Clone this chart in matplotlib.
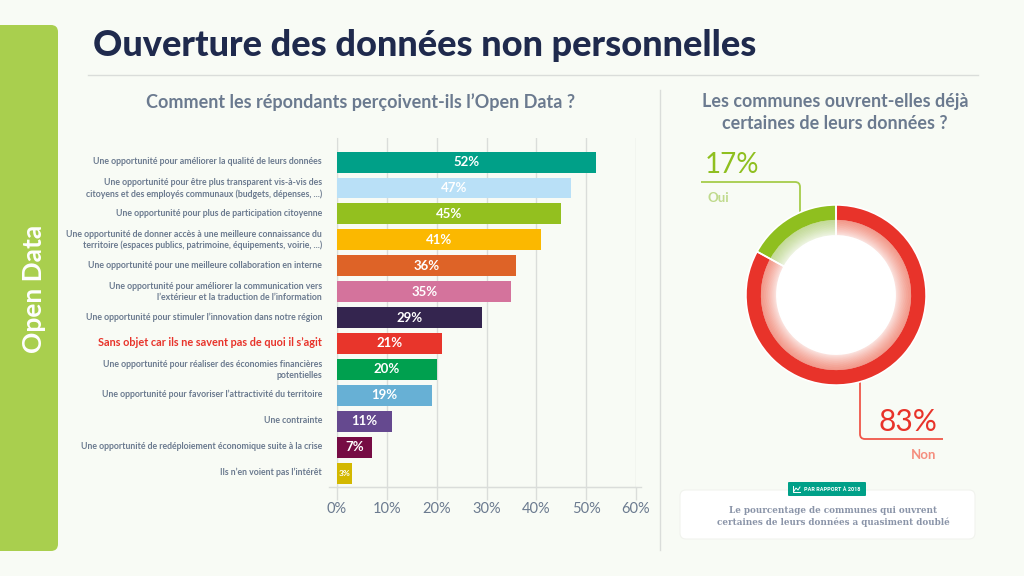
import matplotlib
matplotlib.use("Agg")
import matplotlib.pyplot as plt
from matplotlib.patches import FancyBboxPatch, PathPatch
from matplotlib.path import Path
from matplotlib.transforms import ScaledTranslation

labels = [
    "Une opportunité pour améliorer la qualité de leurs données",
    "Une opportunité pour être plus transparent vis-à-vis des\ncitoyens et des employés communaux (budgets, dépenses, ...)",
    "Une opportunité pour plus de participation citoyenne",
    "Une opportunité de donner accès à une meilleure connaissance du\nterritoire (espaces publics, patrimoine, équipements, voirie, ...)",
    "Une opportunité pour une meilleure collaboration en interne",
    "Une opportunité pour améliorer la communication vers\nl’extérieur et la traduction de l’information",
    "Une opportunité pour stimuler l’innovation dans notre région",
    "Sans objet car ils ne savent pas de quoi il s’agit",
    "Une opportunité pour réaliser des économies financières\npotentielles",
    "Une opportunité pour favoriser l’attractivité du territoire",
    "Une contrainte",
    "Une opportunité de redéploiement économique suite à la crise",
    "Ils n’en voient pas l’intérêt",
]
values = [52, 47, 45, 41, 36, 35, 29, 21, 20, 19, 11, 7, 3]
colors = ["#00A088", "#B9E0F7", "#93C01F", "#FBB800", "#DE6327", "#D4739C", "#34254F",
          "#E8352B", "#00A04F", "#67B0D5", "#65498F", "#760C44", "#D3B800"]
xticks = [0, 10, 20, 30, 40, 50, 60]

donut_labels = ["Oui", "Non"]
donut_values = [17, 83]
donut_colors = ["#8FBF1F", "#E8332A"]
donut_fades = ["#C3DA98", "#F2998A"]

W, H = 1024, 576
BG = "#F8FBF5"
NAVY = "#1F2A4D"
SLATE = "#6B7A8F"
GRID = "#DADDDA"
plt.rcParams["font.family"] = ["Lato", "DejaVu Sans"]


def lerp(c1, c2, t):
    a = matplotlib.colors.to_rgb(c1)
    b = matplotlib.colors.to_rgb(c2)
    return tuple(a[i] + (b[i] - a[i]) * t for i in range(3))


def axes_px(x0, y0, x1, y1, **kw):
    return fig.add_axes([x0 / W, 1 - y1 / H, (x1 - x0) / W, (y1 - y0) / H], **kw)


def rounded_line(ax, pts, color, lw=1.3):
    (x0, y0), (xc, yc), (x2, y2) = pts
    r = 5
    dx0 = (xc > x0) - (xc < x0)
    dy0 = (yc > y0) - (yc < y0)
    dx2 = (x2 > xc) - (x2 < xc)
    dy2 = (y2 > yc) - (y2 < yc)
    p = Path([(x0, y0), (xc - dx0 * r, yc - dy0 * r), (xc, yc), (xc + dx2 * r, yc + dy2 * r), (x2, y2)],
             [Path.MOVETO, Path.LINETO, Path.CURVE3, Path.CURVE3, Path.LINETO])
    ax.add_patch(PathPatch(p, fill=False, edgecolor=color, lw=lw))


fig = plt.figure(figsize=(W / 100, H / 100), dpi=100, facecolor=BG)

# page furniture, in pixel coordinates
bg = axes_px(0, 0, W, H, zorder=0)
bg.set_xlim(0, W)
bg.set_ylim(H, 0)
bg.axis("off")
bg.add_patch(FancyBboxPatch((-20, 25), 78, 526, boxstyle="round,pad=0,rounding_size=7",
                            fc="#A9CF4E", ec="none"))
bg.text(34, 289, "Open Data", color="white", rotation=90, fontsize=19, fontweight="bold",
        ha="center", va="center")
bg.text(93, 46, "Ouverture des données non personnelles", color=NAVY, fontsize=26,
        fontweight="black", va="center")
bg.plot([88, 978], [75, 75], color=GRID, lw=1)
bg.plot([660, 660], [90, 550], color=GRID, lw=1)
bg.text(361, 102, "Comment les répondants perçoivent-ils l’Open Data ?", color=SLATE,
        fontsize=13, fontweight="bold", ha="center", va="center")
bg.text(835, 112.5, "Les communes ouvrent-elles déjà\ncertaines de leurs données ?", color=SLATE,
        fontsize=12.9, fontweight="bold", ha="center", va="center", linespacing=1.3)

# callouts
rounded_line(bg, [(701, 182), (800, 182), (800, 212)], "#A5CC4A")
rounded_line(bg, [(860, 370), (860, 439), (943, 439)], "#F0564A")
bg.text(705, 165, "17%", color="#8FBF1F", fontsize=20, va="center")
bg.text(707, 198, "Oui", color="#BFDA8C", fontsize=9.5, fontweight="bold", va="center")
bg.text(878, 422, "83%", color="#E8332A", fontsize=21.5, va="center")
bg.text(911, 455, "Non", color="#F58E7E", fontsize=9.5, fontweight="bold", va="center")

# note card
bg.add_patch(FancyBboxPatch((680, 490), 295, 49, boxstyle="round,pad=0,rounding_size=6",
                            fc="white", ec="#F1F3EE", lw=0.8))
bg.add_patch(FancyBboxPatch((788, 482), 78, 14, boxstyle="round,pad=0,rounding_size=1",
                            fc="#00A088", ec="none"))
bg.plot([793, 793, 800], [486, 492, 492], color="white", lw=0.7)
bg.plot([794, 796, 798, 800], [491, 488, 490, 487], color="white", lw=0.7)
bg.text(804, 489.5, "PAR RAPPORT À 2018", color="white", fontsize=4.0, fontweight="bold",
        family="Roboto", va="center")
bg.text(833, 516.5, "Le pourcentage de communes qui ouvrent\ncertaines de leurs données a quasiment doublé",
        color="#8A94A8", fontsize=6.3, family="DejaVu Serif", fontweight="bold", ha="center",
        va="center", linespacing=1.45)

# bar chart
ax = axes_px(337, 138, 636, 487, zorder=2)
ax.patch.set_alpha(0)
y = list(range(len(values)))
ax.barh(y, values, height=0.81, color=colors, zorder=3)
ax.set_xlim(0, 60)
ax.set_ylim(12.54, -0.93)
ax.set_xticks(xticks)
ax.set_xticklabels([f"{t}%" for t in xticks], fontsize=10.5, color=SLATE)
ax.tick_params(axis="x", length=9, width=1, color=GRID, pad=2)
ax.set_yticks(y)
ax.set_yticklabels(labels, fontsize=6.3, fontweight="bold", color=SLATE, linespacing=1.25, ha="right")
ax.tick_params(axis="y", length=0, pad=10.8)
ax.get_yticklabels()[7].set_color("#E8332A")
ax.get_yticklabels()[7].set_fontsize(7.85)
# the labels sit slightly above the bar centres
nudge = ScaledTranslation(0, 1.5 / 100, fig.dpi_scale_trans)
for tl in ax.get_yticklabels():
    tl.set_transform(tl.get_transform() + nudge)
ax.grid(axis="x", color=GRID, lw=1, zorder=0)
for s in ["top", "right"]:
    ax.spines[s].set_visible(False)
ax.spines["left"].set_color(GRID)
ax.spines["bottom"].set_color(GRID)
ax.plot([-1.6, 61], [12.54, 12.54], color=GRID, lw=1, clip_on=False, zorder=1)
for i, v in enumerate(values):
    ax.text(v / 2, i, f"{v}%", color="white", fontweight="bold",
            fontsize=6 if v == 3 else 9.5, ha="center", va="center", zorder=4)

# donut
dn = axes_px(745, 204, 927, 386, zorder=2)
outer, band, inner = 1.0, 75 / 90, 59 / 90
steps = 24
for k in range(steps):
    t = k / steps
    r = band - (band - inner) * t
    fade = [lerp(c, "#FFFFFF", t ** 1.3 * 0.8) for c in donut_fades]
    dn.pie(donut_values, radius=r, colors=fade, startangle=90, counterclock=True,
           wedgeprops=dict(width=(band - inner) / steps + 0.006, edgecolor="none"))
dn.pie(donut_values, radius=outer, colors=donut_colors, startangle=90, counterclock=True,
       wedgeprops=dict(width=outer - band, edgecolor="none"))
# white core and slice separators
dn.pie([1], radius=inner, colors=["white"], wedgeprops=dict(edgecolor="none"))
dn.pie(donut_values, radius=outer, colors=["none", "none"], startangle=90, counterclock=True,
       wedgeprops=dict(width=outer - inner, edgecolor="white", linewidth=1.2, fill=False))
dn.set_xlim(-1.01, 1.01)
dn.set_ylim(-1.01, 1.01)

fig.savefig("out.png", dpi=100, facecolor=BG)
